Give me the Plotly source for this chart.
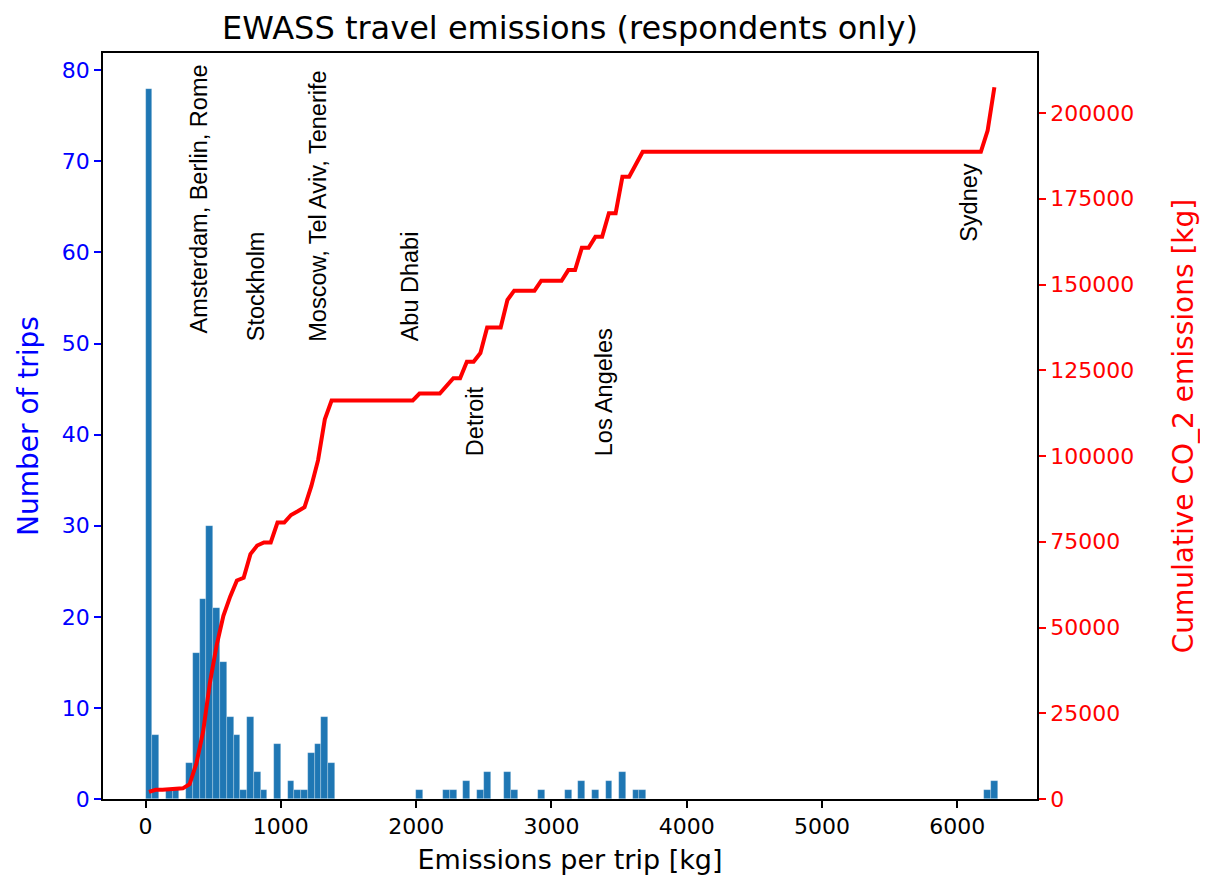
import plotly.graph_objects as go

# ---------------- data ----------------
bin_width_kg = 50
# lower edge of each non-empty histogram bin [kg] and the number of trips in it
bar_bin_lower_kg = [0, 50, 150, 200, 300, 350, 400, 450, 500, 550,
                    600, 650, 700, 750, 800, 850, 950, 1050, 1100, 1150,
                    1200, 1250, 1300, 1350, 2000, 2200, 2250, 2350, 2450, 2500,
                    2650, 2700, 2900, 3100, 3200, 3300, 3400, 3500, 3600, 3650,
                    6200, 6250]
trip_counts = [78, 7, 1, 1, 4, 16, 22, 30, 21, 15,
               9, 7, 1, 9, 3, 1, 6, 2, 1, 1,
               5, 6, 9, 4, 1, 1, 1, 2, 1, 3,
               3, 1, 1, 1, 2, 1, 2, 3, 1, 1,
               1, 2]

# cumulative CO2 curve (vertices at bin centres) [kg]
cum_x_kg = [25, 75, 125, 175, 225, 275, 325, 375, 425, 475,
            525, 575, 625, 675, 725, 775, 825, 875, 925, 975,
            1025, 1075, 1125, 1175, 1225, 1275, 1325, 1375, 1975, 2025,
            2175, 2225, 2275, 2325, 2375, 2425, 2475, 2525, 2625, 2675,
            2725, 2875, 2925, 3075, 3125, 3175, 3225, 3275, 3325, 3375,
            3425, 3475, 3525, 3575, 3625, 3675, 6175, 6225, 6275]
cum_co2_kg = [2100, 2700, 2700, 2900, 3100, 3100, 4300, 10300, 19600, 33800,
              44800, 53400, 59000, 63700, 64500, 71400, 73900, 74800, 74800, 80600,
              80600, 82800, 83900, 85100, 91200, 98800, 110700, 116200, 116200, 118200,
              118200, 120400, 122700, 122700, 127500, 127500, 130000, 137500, 137500, 145500,
              148200, 148200, 151100, 151100, 154200, 154200, 160700, 160700, 163900, 163900,
              170800, 170800, 181400, 181400, 185000, 188700, 188700, 194900, 207500]

# destination labels: text, x [kg], y [trips] (bottom of rotated text)
label_texts = ["Amsterdam, Berlin, Rome", "Stockholm", "Moscow, Tel Aviv, Tenerife",
               "Abu Dhabi", "Detroit", "Los Angeles", "Sydney"]
label_x_kg = [392, 814, 1272, 1953, 2441, 3388, 6087]
label_y_trips = [50.9, 50.0, 50.0, 50.0, 37.4, 37.4, 61.0]

x_ticks = [0, 1000, 2000, 3000, 4000, 5000, 6000]
y_ticks = [0, 10, 20, 30, 40, 50, 60, 70, 80]
y2_ticks = [0, 25000, 50000, 75000, 100000, 125000, 150000, 175000, 200000]

# ---------------- figure ----------------
bar_centres = [b + bin_width_kg / 2 for b in bar_bin_lower_kg]

fig = go.Figure()
fig.add_trace(go.Bar(
    x=bar_centres, y=trip_counts, width=bin_width_kg,
    marker=dict(color="#1f77b4", line=dict(color="rgba(255,255,255,0.4)", width=0.6)),
    yaxis="y", showlegend=False,
))
fig.add_trace(go.Scatter(
    x=cum_x_kg, y=cum_co2_kg, mode="lines",
    line=dict(color="#ff0000", width=4),
    yaxis="y2", showlegend=False,
))

for t, xv, yv in zip(label_texts, label_x_kg, label_y_trips):
    fig.add_annotation(
        x=xv, y=yv, xref="x", yref="y", text=t, showarrow=False,
        textangle=-90, xanchor="center", yanchor="bottom",
        font=dict(family="Liberation Sans, Arial, sans-serif", size=23.5, color="black"),
    )

tick_font = dict(family="DejaVu Sans", size=22)

fig.update_layout(
    width=1208, height=882,
    margin=dict(l=95, r=179, t=45, b=91),
    paper_bgcolor="white", plot_bgcolor="white",
    bargap=0,
    title=dict(text="EWASS travel emissions (respondents only)",
               x=0.5, xref="paper", xanchor="center",
               y=1 - 20 / 882, yref="container", yanchor="middle",
               font=dict(family="DejaVu Sans", size=32, color="black")),
    xaxis=dict(
        range=[-315, 6590], tickvals=x_ticks, ticktext=[str(v) for v in x_ticks],
        showgrid=False, zeroline=False,
        showline=True, linecolor="black", linewidth=1.6, mirror=True,
        ticks="outside", ticklen=7, tickwidth=1.5, tickcolor="black",
        tickfont=dict(color="black", **tick_font),
        title=dict(text="Emissions per trip [kg]", standoff=12,
                   font=dict(family="DejaVu Sans", size=27, color="black")),
    ),
    yaxis=dict(
        range=[0, 81.9], tickvals=y_ticks, ticktext=[str(v) for v in y_ticks],
        showgrid=False, zeroline=False,
        showline=True, linecolor="black", linewidth=1.6,
        ticks="outside", ticklen=7, tickwidth=1.5, tickcolor="blue",
        tickfont=dict(color="blue", **tick_font),
        title=dict(text="Number of trips", standoff=15,
                   font=dict(family="DejaVu Sans", size=28, color="blue")),
    ),
    yaxis2=dict(
        range=[0, 217500], tickvals=y2_ticks, ticktext=[str(v) for v in y2_ticks],
        overlaying="y", side="right",
        showgrid=False, zeroline=False,
        showline=True, linecolor="black", linewidth=1.6,
        ticks="outside", ticklen=7, tickwidth=1.5, tickcolor="red",
        tickfont=dict(color="red", **tick_font),
        title=dict(text="Cumulative CO_2 emissions [kg]", standoff=40,
                   font=dict(family="DejaVu Sans", size=28, color="red")),
    ),
)

fig.write_html("out.html")
